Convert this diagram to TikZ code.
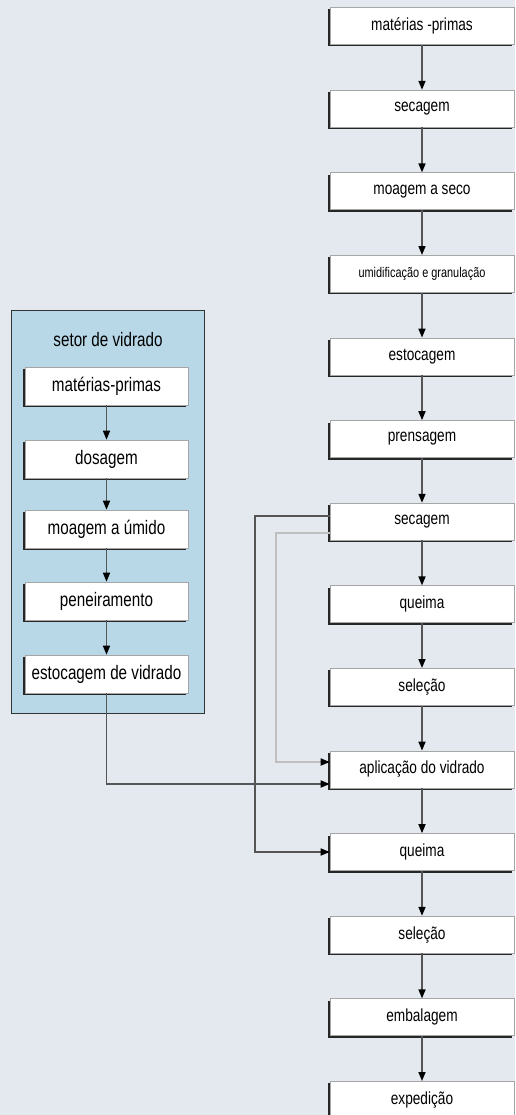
\documentclass[tikz,border=0pt]{standalone}
\usepackage{fontspec}
\setmainfont{Liberation Sans}[FakeStretch=0.78]
\usetikzlibrary{positioning,arrows.meta,shadows}

\definecolor{pagebg}{HTML}{E3E9EF}
\definecolor{vidblue}{HTML}{B8D8E8}
\definecolor{flowgray}{HTML}{555555}

\begin{document}
\begin{tikzpicture}[x=1pt,y=-1pt,
    stepbox/.style={draw=gray!70,fill=white,line width=0.6pt,inner sep=0pt,
      minimum width=184pt,minimum height=37pt,font=\fontsize{17.5}{20}\selectfont,
      general shadow={fill=black!85,shadow xshift=-2pt,shadow yshift=-2pt}},
    vidbox/.style={stepbox,minimum width=163pt,minimum height=38pt,font=\fontsize{19.5}{22}\selectfont},
    flow/.style={draw=flowgray,line width=1.6pt,-{Triangle[length=9pt,width=7pt,color=black]}},
    loopline/.style={flow,draw=gray!50}]
    \useasboundingbox[fill=pagebg] (0,0) rectangle (515,1115);

    % linha principal
    \node[stepbox] (mp)   at (422,26)    {matérias -primas};
    \node[stepbox] (sec1) at (422,108.6) {secagem};
    \node[stepbox] (moa)  at (422,191.2) {moagem a seco};
    \node[stepbox,font=\fontsize{14}{16}\selectfont] (umi) at (422,273.8) {umidificação e granulação};
    \node[stepbox] (est)  at (422,356.4) {estocagem};
    \node[stepbox] (pre)  at (422,439)   {prensagem};
    \node[stepbox] (sec2) at (422,521.6) {secagem};
    \node[stepbox] (qu1)  at (422,604.2) {queima};
    \node[stepbox] (sel1) at (422,686.8) {seleção};
    \node[stepbox] (apl)  at (422,769.4) {aplicação do vidrado};
    \node[stepbox] (qu2)  at (422,852)   {queima};
    \node[stepbox] (sel2) at (422,934.6) {seleção};
    \node[stepbox] (emb)  at (422,1017.2){embalagem};
    \node[stepbox] (exp)  at (422,1099.8){expedição};

    \foreach \a/\b in {mp/sec1,sec1/moa,moa/umi,umi/est,est/pre,pre/sec2,sec2/qu1,
                       qu1/sel1,sel1/apl,apl/qu2,qu2/sel2,sel2/emb,emb/exp}
      \draw[flow] (\a) -- (\b);

    % setor de vidrado
    \node[draw=black!80,line width=1.8pt,fill=vidblue,minimum width=193pt,minimum height=403pt] (setor) at (108,512) {};
    \node[font=\fontsize{19.5}{22}\selectfont] (titulo) at (108,340) {setor de vidrado};
    \node[vidbox] (vmp)  at (106.5,386) {matérias-primas};
    \node[vidbox] (vdos) at (106.5,459) {dosagem};
    \node[vidbox] (vmoa) at (106.5,529) {moagem a úmido};
    \node[vidbox] (vpen) at (106.5,601) {peneiramento};
    \node[vidbox] (vsto) at (106.5,674) {estocagem de vidrado};

    \foreach \a/\b in {vmp/vdos,vdos/vmoa,vmoa/vpen,vpen/vsto}
      \draw[flow] (\a) -- (\b);

    % retornos para aplicacao e queima
    \draw[flow] ([yshift=5.6pt]sec2.west) -- ++(-75,0) |- (qu2.west);
    \draw[loopline] ([yshift=-11.4pt]sec2.west) -- ++(-54,0) |- ([yshift=7.4pt]apl.west);
    \draw[flow] (vsto.south) |- ([yshift=-14.6pt]apl.west);
\end{tikzpicture}
\end{document}
